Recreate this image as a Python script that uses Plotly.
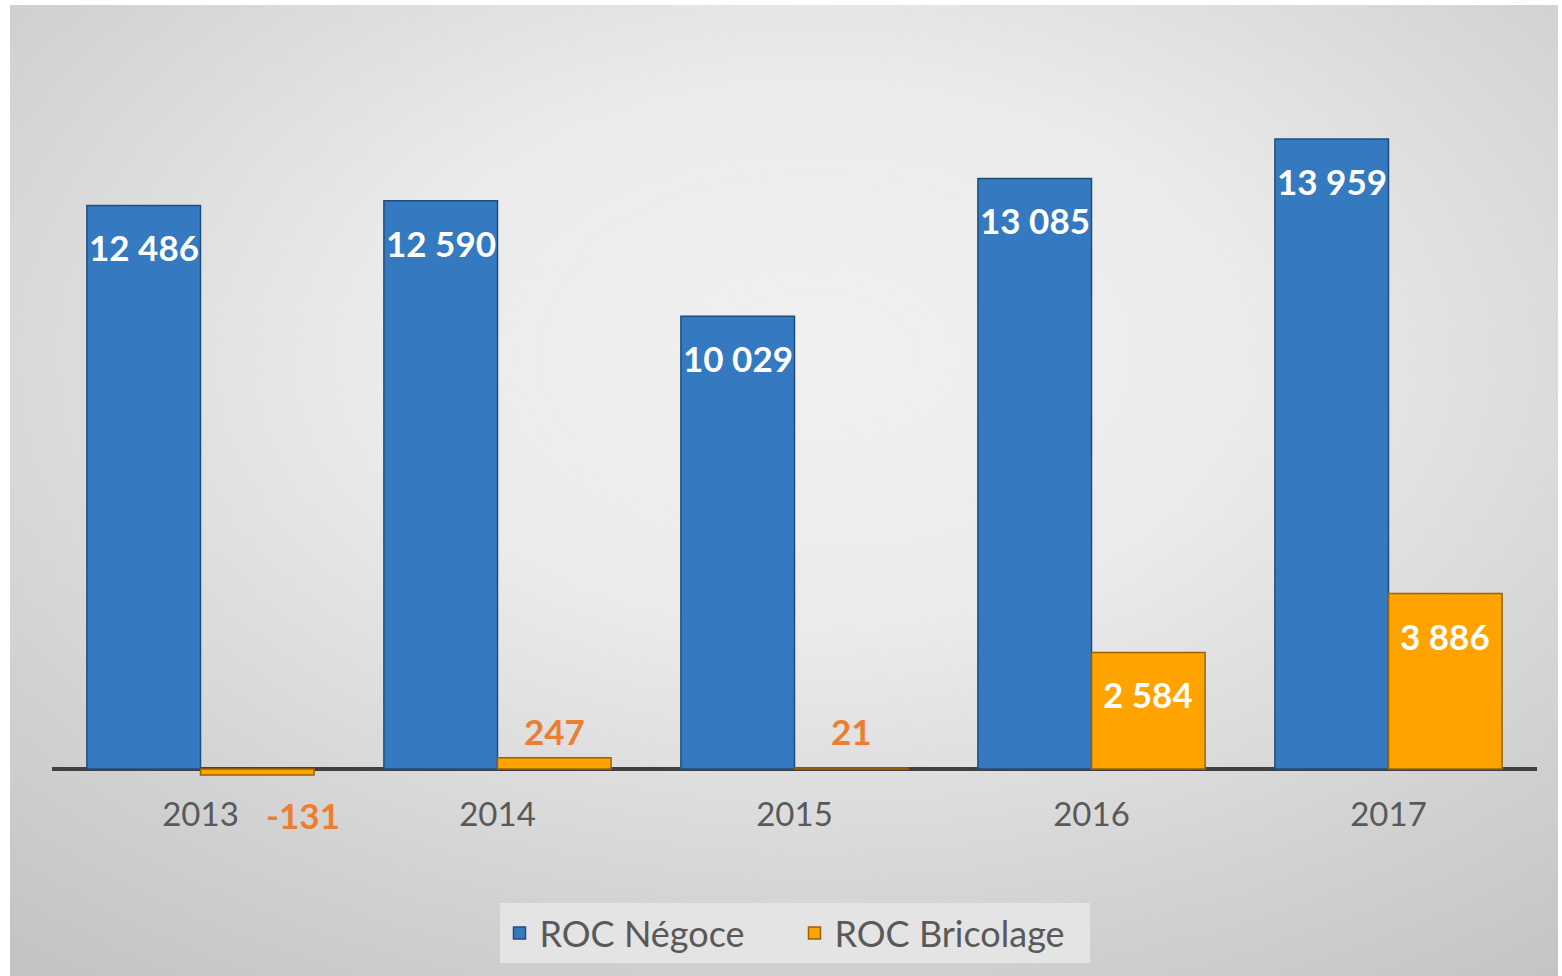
import base64
import plotly.graph_objects as go

# ---- data ----
years = ["2013", "2014", "2015", "2016", "2017"]
roc_negoce = [12486, 12590, 10029, 13085, 13959]
roc_bricolage = [-131, 247, 21, 2584, 3886]
series_names = ["ROC Négoce", "ROC Bricolage"]

# ---- style ----
BLUE = "#3579C0"
BLUE_EDGE = "#1F4E7E"
ORANGE = "#FFA300"
ORANGE_EDGE = "#9A6200"
LABEL_ORANGE = "#ED7D31"
TEXT_GRAY = "#595959"
FONT = "Lato, 'Open Sans', sans-serif"
BARGAP = 0.235

W, H = 1562, 976
L, R, T, B = 52, 25, 20, 184
PLOT_H = H - T - B
PLOT_W = W - L - R
ZERO_PX = 769 - T  # zero line from top of plot area
SCALE = 630 / 13959  # px per unit
ymax = ZERO_PX / SCALE
ymin = -(PLOT_H - ZERO_PX) / SCALE

fig = go.Figure()
fig.add_bar(x=years, y=roc_negoce, name=series_names[0],
            marker=dict(color=BLUE, line=dict(color=BLUE_EDGE, width=1.5)))
fig.add_bar(x=years, y=roc_bricolage, name=series_names[1],
            marker=dict(color=ORANGE, line=dict(color=ORANGE_EDGE, width=1.5)))


def fmt(v):
    return f"{v:,}".replace(",", " ")


bw = (1 - BARGAP) / 2
LBL = dict(family=FONT, size=35, weight="bold")
ann = []
for i, v in enumerate(roc_negoce):
    ann.append(dict(x=i - bw / 2, y=v, xref="x", yref="y", text=fmt(v), showarrow=False,
                    yshift=-42, font=dict(LBL, color="white")))
for i, v in enumerate(roc_bricolage):
    if v >= 1000:
        ann.append(dict(x=i + bw / 2, y=v, xref="x", yref="y", text=fmt(v), showarrow=False,
                        yshift=-42, font=dict(LBL, color="white")))
    elif v >= 0:
        ann.append(dict(x=i + bw / 2, y=0, xref="x", yref="y", text=fmt(v), showarrow=False,
                        yshift=38, font=dict(LBL, color=LABEL_ORANGE)))
    else:
        ann.append(dict(x=i + bw / 2, y=v, xref="x", yref="y", text=fmt(v), showarrow=False,
                        yshift=-40, xshift=46, font=dict(LBL, color=LABEL_ORANGE)))

# background gradient as svg image
svg = """<svg xmlns='http://www.w3.org/2000/svg' width='1548' height='971' viewBox='0 0 1548 971' preserveAspectRatio='none'>
<defs><radialGradient id='g' cx='0.52' cy='0.36' r='0.8' fx='0.52' fy='0.36'>
<stop offset='0' stop-color='#f0f0f0'/>
<stop offset='0.35' stop-color='#ebebeb'/>
<stop offset='0.75' stop-color='#d2d2d2'/>
<stop offset='1' stop-color='#c4c4c4'/>
</radialGradient></defs>
<rect width='1548' height='971' fill='url(#g)'/></svg>"""
src = "data:image/svg+xml;base64," + base64.b64encode(svg.encode()).decode()

img_x0, img_y0, img_w, img_h = 10, 5, 1548, 971
fig.add_layout_image(dict(
    source=src, xref="paper", yref="paper",
    x=(img_x0 - L) / PLOT_W, y=(H - B - img_y0) / PLOT_H,
    sizex=img_w / PLOT_W, sizey=img_h / PLOT_H,
    xanchor="left", yanchor="top", sizing="stretch", layer="below"))

fig.update_layout(
    width=W, height=H,
    margin=dict(l=L, r=R, t=T, b=B),
    paper_bgcolor="white", plot_bgcolor="rgba(0,0,0,0)",
    barmode="group", bargap=BARGAP, bargroupgap=0,
    annotations=ann,
    showlegend=True,
    legend=dict(orientation="h", x=0.5, xanchor="center",
                y=(H - B - 903) / PLOT_H, yanchor="top",
                bgcolor="#E4E4E4", font=dict(family=FONT, size=36, color=TEXT_GRAY),
                itemwidth=30, entrywidth=250, borderwidth=0),
    font=dict(family=FONT, color=TEXT_GRAY),
)
fig.update_xaxes(type="category", showgrid=False, showline=False, ticks="",
                 tickfont=dict(family=FONT, size=33, color=TEXT_GRAY))
fig.update_yaxes(range=[ymin, ymax], showgrid=False, showticklabels=False,
                 zeroline=True, zerolinecolor="#404040", zerolinewidth=4)

fig.write_html("out.html", config={"displayModeBar": False},
               post_script="document.body.style.margin='0';")
